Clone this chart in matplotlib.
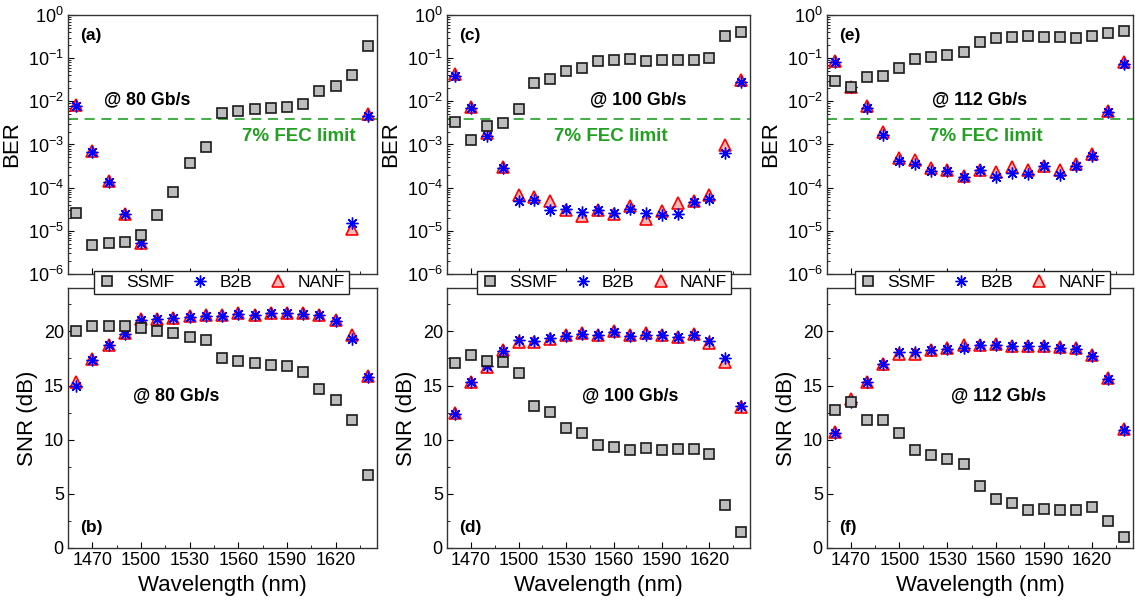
import numpy as np
import matplotlib.pyplot as plt
from matplotlib.ticker import MultipleLocator, LogLocator, NullFormatter

plt.rcParams['font.family'] = ['Liberation Sans', 'DejaVu Sans']

# wavelength grid [nm]
wavelength = np.arange(1460, 1641, 10)
nan = np.nan

# BER @ 80 Gb/s
ber_ssmf_80 = [2.6e-5, 4.7e-6, 5.1e-6, 5.6e-6, 7.9e-6, 2.3e-5, 8e-5, 3.8e-4, 8.7e-4, 5.3e-3,
               6.1e-3, 6.8e-3, 7.1e-3, 7.2e-3, 8.7e-3, 1.7e-2, 2.3e-2, 4.0e-2, 0.19]
ber_b2b_80 = [7.9e-3, 6.6e-4, 1.35e-4, 2.4e-5, 5.1e-6, nan, nan, nan, nan, nan,
              nan, nan, nan, nan, nan, nan, nan, 1.55e-5, 4.5e-3]
ber_nanf_80 = [8.1e-3, 6.9e-4, 1.4e-4, 2.5e-5, 5.3e-6, nan, nan, nan, nan, nan,
               nan, nan, nan, nan, nan, nan, nan, 1.1e-5, 5.1e-3]

# BER @ 100 Gb/s
ber_ssmf_100 = [3.3e-3, 1.3e-3, 2.7e-3, 3.2e-3, 6.8e-3, 2.6e-2, 3.3e-2, 5.1e-2, 6.0e-2, 8.5e-2,
                9.1e-2, 9.6e-2, 8.8e-2, 9.1e-2, 9.1e-2, 9.1e-2, 0.10, 0.33, 0.41]
ber_b2b_100 = [3.9e-2, 6.9e-3, 1.55e-3, 2.9e-4, 4.8e-5, 5.1e-5, 3.0e-5, 3.2e-5, 2.8e-5, 3.0e-5,
               2.6e-5, 3.2e-5, 2.6e-5, 2.3e-5, 2.5e-5, 4.7e-5, 5.6e-5, 6.2e-4, 2.75e-2]
ber_nanf_100 = [4.3e-2, 7.4e-3, 1.8e-3, 3.0e-4, 6.6e-5, 6.2e-5, 4.8e-5, 3.0e-5, 2.2e-5, 3.0e-5,
                2.5e-5, 3.8e-5, 1.9e-5, 2.9e-5, 4.5e-5, 4.8e-5, 6.6e-5, 9.6e-4, 3.2e-2]

# BER @ 112 Gb/s
ber_ssmf_112 = [3.0e-2, 2.2e-2, 3.7e-2, 3.8e-2, 5.8e-2, 9.6e-2, 0.105, 0.117, 0.137, 0.234,
                0.29, 0.31, 0.32, 0.316, 0.31, 0.295, 0.32, 0.38, 0.435]
ber_b2b_112 = [8.2e-2, 2.1e-2, 6.9e-3, 1.7e-3, 4.2e-4, 3.6e-4, 2.4e-4, 2.4e-4, 1.8e-4, 2.5e-4,
               1.77e-4, 2.2e-4, 2.1e-4, 3.1e-4, 1.95e-4, 3.1e-4, 5.4e-4, 5.8e-3, 7.3e-2]
ber_nanf_112 = [8.7e-2, 2.15e-2, 7.9e-3, 1.9e-3, 4.8e-4, 4.4e-4, 2.8e-4, 2.5e-4, 1.9e-4, 2.6e-4,
                2.3e-4, 3.0e-4, 2.6e-4, 3.1e-4, 2.5e-4, 3.6e-4, 5.9e-4, 6.0e-3, 8.1e-2]

# SNR [dB]
snr_ssmf_80 = [20.0, 20.5, 20.45, 20.45, 20.3, 20.0, 19.85, 19.5, 19.2, 17.5,
               17.25, 17.05, 16.9, 16.8, 16.25, 14.7, 13.7, 11.85, 6.7]
snr_b2b_80 = [15.0, 17.4, 18.7, 19.75, 21.0, 21.1, 21.25, 21.3, 21.4, 21.4,
              21.6, 21.5, 21.65, 21.65, 21.6, 21.5, 20.95, 19.25, 15.75]
snr_nanf_80 = [15.3, 17.45, 18.75, 19.8, 21.1, 21.15, 21.25, 21.45, 21.5, 21.5,
               21.65, 21.5, 21.7, 21.7, 21.7, 21.55, 21.0, 19.7, 15.85]

snr_ssmf_100 = [17.05, 17.85, 17.3, 17.15, 16.2, 13.1, 12.6, 11.05, 10.65, 9.5,
                9.35, 9.05, 9.2, 9.05, 9.1, 9.1, 8.65, 4.0, 1.45]
snr_b2b_100 = [12.35, 15.3, 16.8, 18.2, 19.2, 19.15, 19.4, 19.55, 19.75, 19.7,
               19.95, 19.6, 19.65, 19.7, 19.5, 19.7, 19.15, 17.55, 13.15]
snr_nanf_100 = [12.5, 15.35, 16.7, 18.3, 19.05, 19.05, 19.3, 19.7, 19.85, 19.7,
                20.0, 19.7, 19.85, 19.7, 19.45, 19.75, 18.95, 17.2, 13.05]

snr_ssmf_112 = [12.75, 13.5, 11.85, 11.85, 10.6, 9.05, 8.6, 8.25, 7.75, 5.7,
                4.5, 4.2, 3.55, 3.6, 3.5, 3.55, 3.75, 2.45, 1.0]
snr_b2b_112 = [10.6, 13.5, 15.35, 16.95, 18.1, 18.1, 18.3, 18.4, 18.45, 18.7,
               18.75, 18.65, 18.6, 18.6, 18.5, 18.35, 17.75, 15.6, 10.9]
snr_nanf_112 = [10.75, 13.8, 15.35, 17.0, 17.95, 17.95, 18.25, 18.5, 18.7, 18.7,
                18.8, 18.6, 18.65, 18.6, 18.55, 18.5, 17.85, 15.65, 11.0]

fec_limit = 3.8e-3
rates = ["@ 80 Gb/s", "@ 100 Gb/s", "@ 112 Gb/s"]
ber_sets = [(ber_ssmf_80, ber_b2b_80, ber_nanf_80),
            (ber_ssmf_100, ber_b2b_100, ber_nanf_100),
            (ber_ssmf_112, ber_b2b_112, ber_nanf_112)]
snr_sets = [(snr_ssmf_80, snr_b2b_80, snr_nanf_80),
            (snr_ssmf_100, snr_b2b_100, snr_nanf_100),
            (snr_ssmf_112, snr_b2b_112, snr_nanf_112)]
top_tags = ["(a)", "(c)", "(e)"]
bot_tags = ["(b)", "(d)", "(f)"]

# layout in pixels (figure is 1135 x 608)
W, H = 1135, 608
col_left = [68, 447, 827]
col_right = [377, 750, 1133]
leg_center = [221.5, 604, 982.5]
rate_x_top = [1504, 1575, 1550]
fec_x = [1597, 1558, 1554]
rate_x_bot = [1522, 1570, 1562]

green = '#22a022'
spine_c = '#333333'

sq = dict(marker='s', ms=7.5, mfc='#bdbdbd', mec='#1a1a1a', mew=1.2, ls='none', zorder=5)
ast = dict(marker=(8, 2, 0), ms=8.5, mec='#0000ff', mfc='#0000ff', mew=1.0, ls='none', zorder=4)
tri = dict(marker='^', ms=9, mfc='#f6b8b8', mec='#ff0000', mew=1.2, ls='none', zorder=3)


def style_axes(ax):
    for s in ax.spines.values():
        s.set_color(spine_c)
        s.set_linewidth(1.0)
    ax.tick_params(which='both', direction='in', top=False, right=False, labelsize=13)
    ax.tick_params(which='major', length=4, pad=3)
    ax.tick_params(which='minor', length=2)
    ax.set_xlim(1455, 1645.5)
    ax.set_xticks(np.arange(1470, 1621, 30))
    ax.xaxis.set_minor_locator(MultipleLocator(15))


fig = plt.figure(figsize=(W / 100, H / 100), dpi=100)

for c in range(3):
    l = col_left[c] / W
    w = (col_right[c] - col_left[c]) / W
    ax_t = fig.add_axes([l, 1 - 274 / H, w, 259 / H])
    ax_b = fig.add_axes([l, 1 - 548 / H, w, 260 / H])

    # BER panel
    ssmf, b2b, nanf = ber_sets[c]
    ax_t.plot(wavelength, nanf, **tri)
    ax_t.plot(wavelength, b2b, **ast)
    ax_t.plot(wavelength, ssmf, **sq)
    ax_t.axhline(fec_limit, color=green, ls=(0, (6, 4)), lw=1.2, zorder=2)
    ax_t.set_yscale('log')
    ax_t.set_ylim(1e-6, 1)
    style_axes(ax_t)
    ax_t.yaxis.set_major_locator(LogLocator(base=10, numticks=10))
    ax_t.yaxis.set_minor_locator(LogLocator(base=10, subs=np.arange(2, 10), numticks=10))
    ax_t.yaxis.set_minor_formatter(NullFormatter())
    ax_t.set_xticklabels([])
    ax_t.set_ylabel("BER", fontsize=16, labelpad=4)
    ax_t.text(0.04, 0.92, top_tags[c], transform=ax_t.transAxes, fontsize=12.5,
              fontweight='bold', va='center', ha='left')
    ax_t.text(rate_x_top[c], 1.07e-2, rates[c], fontsize=12.8, fontweight='bold',
              ha='center', va='center')
    ax_t.text(fec_x[c], 1.5e-3, "7% FEC limit", fontsize=13.5, fontweight='bold',
              color=green, ha='center', va='center')

    # SNR panel
    ssmf, b2b, nanf = snr_sets[c]
    h3 = ax_b.plot(wavelength, nanf, **tri)[0]
    h2 = ax_b.plot(wavelength, b2b, **ast)[0]
    h1 = ax_b.plot(wavelength, ssmf, **sq)[0]
    ax_b.set_ylim(0, 24)
    style_axes(ax_b)
    ax_b.yaxis.set_major_locator(MultipleLocator(5))
    ax_b.yaxis.set_minor_locator(MultipleLocator(2.5))
    ax_b.set_ylabel("SNR (dB)", fontsize=16, labelpad=4)
    ax_b.set_xlabel("Wavelength (nm)", fontsize=16, labelpad=4)
    ax_b.text(0.04, 0.077, bot_tags[c], transform=ax_b.transAxes, fontsize=12.5,
              fontweight='bold', va='center', ha='left')
    ax_b.text(rate_x_bot[c], 14.05, rates[c], fontsize=12.8, fontweight='bold',
              ha='center', va='center')

    leg = fig.legend([h1, h2, h3], ["SSMF", "B2B", "NANF"], ncol=3, loc='center',
                     bbox_to_anchor=(leg_center[c] / W, 1 - 282.5 / H), fontsize=12.5,
                     frameon=True, fancybox=False, framealpha=1, edgecolor='#222222',
                     handlelength=1.0, handletextpad=0.6, columnspacing=1.0,
                     borderpad=0.25, borderaxespad=0)
    leg.get_frame().set_linewidth(1.0)

fig.savefig("out.png", dpi=100)
